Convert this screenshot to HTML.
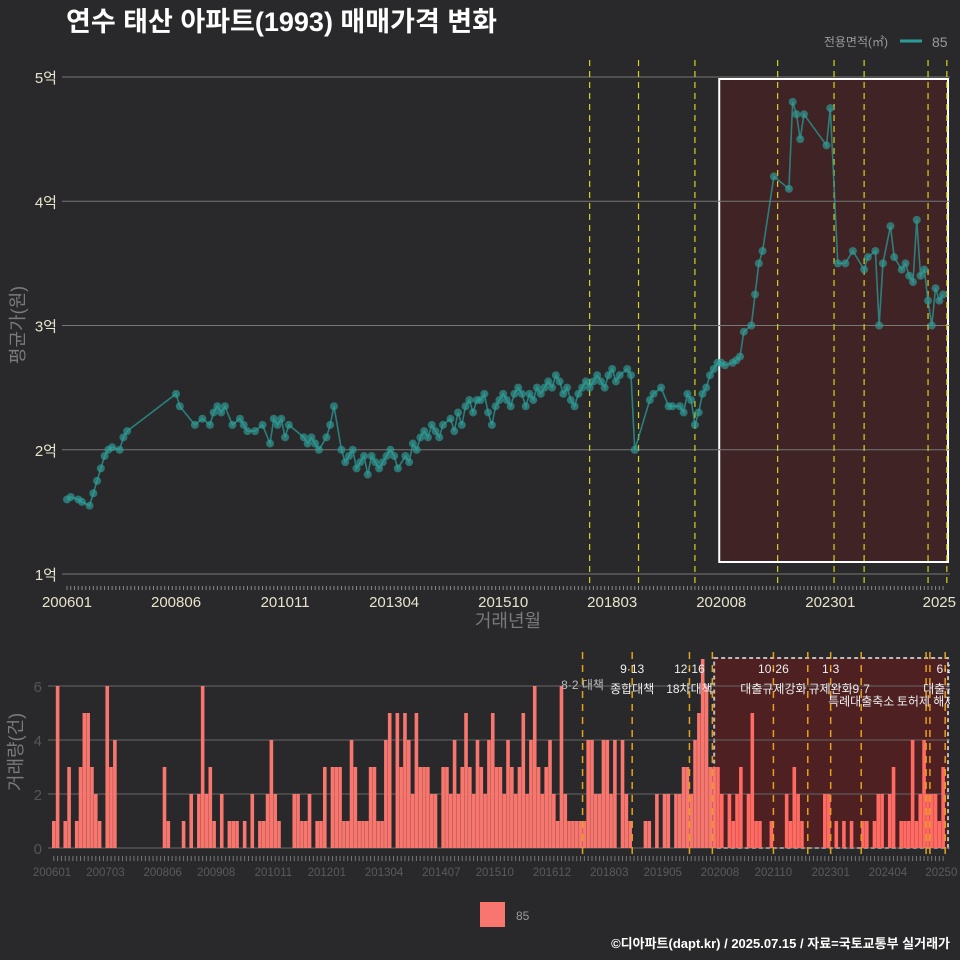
<!DOCTYPE html>
<html><head><meta charset="utf-8">
<style>
html,body{margin:0;padding:0;background:#29292b;}
svg{display:block;font-family:"Liberation Sans","Noto Sans CJK KR",sans-serif;}
</style></head>
<body>
<svg id="chart" width="960" height="960" viewBox="0 0 960 960">
<rect width="960" height="960" fill="#29292b"/>
<text x="66" y="31" font-size="27" font-weight="bold" fill="#ffffff">연수 태산 아파트(1993) 매매가격 변화</text>
<text x="888" y="46" font-size="12" fill="#9a9a9a" text-anchor="end">전용면적(㎡)</text>
<line x1="900" y1="41" x2="922" y2="41" stroke="#2a9d98" stroke-width="3"/>
<text x="932" y="47" font-size="14" fill="#9a9a9a">85</text>
<g id="topPanel"></g>
<g id="botPanel"></g>
<rect x="480" y="902" width="25" height="25" fill="#f8766d"/>
<text x="516" y="920" font-size="12" fill="#9a9a9a">85</text>
<text x="950" y="948" font-size="13" font-weight="bold" fill="#ffffff" text-anchor="end">©디아파트(dapt.kr) / 2025.07.15 / 자료=국토교통부 실거래가</text>
</svg>
<script>
const months = 234; // 2006-01 .. 2025-06
const priceAvg = [
1.60,1.62,1.60,1.60,1.58,1.62,1.55,1.65,1.75,1.85,1.95,2.00,
2.02,2.05,2.00,2.10,2.15,2.20,2.20,2.20,2.20,2.20,2.20,2.20,
2.30,2.30,2.30,2.30,2.30,2.45,2.35,2.30,2.30,2.25,2.20,2.20,
2.25,2.25,2.20,2.30,2.35,2.30,2.35,2.25,2.20,2.20,2.25,2.20,
2.15,2.10,2.15,2.10,2.20,2.10,2.05,2.25,2.20,2.25,2.10,2.20,
2.20,2.15,2.15,2.10,2.05,2.10,2.05,2.00,2.10,2.10,2.20,2.35,
2.10,2.00,1.90,1.95,2.00,1.85,1.90,1.95,1.80,1.95,1.90,1.85,
1.90,1.95,2.00,1.95,1.85,1.90,1.95,1.90,2.05,2.00,2.10,2.15,
2.10,2.20,2.15,2.10,2.20,2.10,2.25,2.15,2.30,2.20,2.35,2.40,
2.30,2.40,2.40,2.45,2.30,2.20,2.35,2.40,2.45,2.40,2.35,2.45,
2.50,2.45,2.35,2.45,2.40,2.50,2.45,2.50,2.55,2.50,2.60,2.55,
2.45,2.50,2.40,2.35,2.45,2.50,2.55,2.50,2.55,2.60,2.55,2.50,
2.60,2.65,2.55,2.60,2.60,2.65,2.60,2.00,2.60,2.60,2.60,2.40,
2.45,2.40,2.50,2.40,2.35,2.35,2.30,2.35,2.30,2.45,2.40,2.20,
2.30,2.45,2.50,2.60,2.65,2.70,2.70,2.68,2.70,2.70,2.72,2.75,
2.95,2.90,3.00,3.25,3.50,3.60,3.30,3.60,4.20,4.80,4.70,4.80,
4.10,4.80,4.70,4.50,4.70,4.70,4.70,4.70,4.70,4.70,4.45,4.75,
3.50,3.50,3.45,3.50,3.60,3.60,3.10,3.50,3.45,3.55,3.45,3.60,
3.00,3.50,3.50,3.80,3.55,3.50,3.45,3.50,3.40,3.35,3.85,3.40,
3.45,3.20,3.00,3.30,3.20,3.25];
const volume = [
1,6,0,1,3,0,1,3,5,5,3,2,
1,0,6,3,4,0,0,0,0,0,0,0,
0,0,0,0,0,3,1,0,0,0,1,0,
2,0,2,6,2,3,1,0,2,0,1,1,
1,0,1,0,2,0,1,1,2,4,2,1,
0,0,0,2,2,1,1,2,0,1,1,3,
0,3,3,3,1,1,4,3,1,1,1,3,
3,1,1,4,5,0,5,3,5,4,2,5,
3,3,3,2,2,0,3,3,2,4,2,3,
5,3,2,4,3,2,4,5,3,3,2,4,
3,2,3,5,2,4,6,3,2,3,4,2,
1,6,2,1,1,1,1,1,4,4,2,2,
4,4,2,4,0,4,2,1,0,0,0,1,
1,0,2,0,2,2,0,2,2,3,3,2,
4,5,7,6,3,3,3,2,0,2,1,2,
3,0,2,5,1,1,0,0,1,0,0,0,
2,1,3,2,1,0,0,0,0,0,2,2,
0,1,0,1,0,1,0,0,1,1,0,1,
2,2,0,2,3,0,1,1,1,4,1,2,
4,2,2,2,1,3];
const priceTicks = [1,2,3,4,5];
const priceTickLabels = ["1억","2억","3억","4억","5억"];
const volTicks = [0,2,4,6];
const topXTicks = [0,29,58,87,116,145,174,203,232];
const topXLabels = ["200601","200806","201011","201304","201510","201803","202008","202301","2025"];
const botXTicks = [0,14,29,43,58,72,87,102,116,131,146,160,175,189,204,219,233];
const botXLabels = ["200601","200703","200806","200908","201011","201201","201304","201407","201510","201612","201803","201905","202008","202110","202301","202404","20250"];
const topEvents = [139,152,167,189,204,212,229,234];
const botEvents = [139,152,167,173,189,198,204,212,229,230,234];
const highlightStart = 174;
const annText = ["8·2 대책","9·13","종합대책","12·16","18차대책","10·26","대출규제강화","1·3","규제완화","9·7","특례대출축소","토허제 해제","6·2","대출규제"];
const annMonth = [139,152,152,167,167,189,189,204,204,212,212,229,234,234];
const annRow = [1.5,0,1.9,0,1.9,0,1.9,0,1.9,1.9,3.1,3.1,0,1.9];

const NS = "http://www.w3.org/2000/svg";
function mk(tag, attrs, parent){const e=document.createElementNS(NS,tag);for(const k in attrs)e.setAttribute(k,attrs[k]);parent.appendChild(e);return e;}
const topG = document.getElementById('topPanel');
const botG = document.getElementById('botPanel');

const tx = m => 67 + m*3.76;
const ty = v => 574 - (v-1)*124.25;
const bx = m => 52 + m*3.817;
const by = v => 848 - v*27;

let hr = mk('rect',{x:tx(highlightStart)-2,y:79,width:948-tx(highlightStart)+2,height:483,fill:'rgba(100,25,30,0.38)',stroke:'#ffffff','stroke-width':2},topG);



priceTicks.forEach((v,i)=>{
  let g = mk('line',{x1:62,x2:950,y1:ty(v),y2:ty(v),stroke:'#777','stroke-width':1},topG);
  
  
  let t = mk('text',{x:57,y:ty(v)+6,'font-size':15,fill:'#e8e4cc','text-anchor':'end'},topG);
  t.textContent = priceTickLabels[i];
  
  
});
for(let m=0;m<months;m++){
  let l = mk('line',{x1:tx(m),x2:tx(m),y1:586,y2:590,stroke:'#888','stroke-width':1},topG);
  
  
}
topXTicks.forEach((m,i)=>{
  let t = mk('text',{x:tx(m),y:607,'font-size':15,fill:'#e8e4cc','text-anchor':'middle'},topG);
  t.textContent = topXLabels[i];
  
  
});
let xt = mk('text',{x:508,y:627,'font-size':18,fill:'#7a7a7a','text-anchor':'middle'},topG);
xt.textContent='거래년월';


let yt = mk('text',{x:0,y:0,'font-size':18,fill:'#7a7a7a','text-anchor':'middle',transform:'translate(24,325) rotate(-90)'},topG);
yt.textContent='평균가(원)';



topEvents.forEach(m=>{
  let l = mk('line',{x1:tx(m),x2:tx(m),y1:60,y2:585,stroke:'#d4d41a','stroke-width':1.2,'stroke-dasharray':'6,5'},topG);
  
  
});

let pts=[];
for(let m=0;m<months;m++){ if(volume[m]>0) pts.push([tx(m),ty(priceAvg[m])]); }
let pl = mk('polyline',{points:pts.map(p=>p.join(',')).join(' '),fill:'none',stroke:'#2a9d98','stroke-width':1.6,'stroke-opacity':0.75},topG);


for(let m=0;m<months;m++){
  if(volume[m]>0){
    let c = mk('circle',{cx:tx(m),cy:ty(priceAvg[m]),r:4,fill:'#2f9f99','fill-opacity':0.65},topG);
    
    
  }
}

let br = mk('rect',{x:bx(highlightStart)-2,y:658,width:948-bx(highlightStart)+2,height:190,fill:'rgba(110,25,28,0.55)',stroke:'#bbb','stroke-width':2,'stroke-dasharray':'4,3'},botG);


volTicks.forEach(v=>{
  let g = mk('line',{x1:48,x2:950,y1:by(v),y2:by(v),stroke:'#666','stroke-width':1},botG);
  
  
  let t = mk('text',{x:42,y:by(v)+6,'font-size':15,fill:'#555','text-anchor':'end'},botG);
  t.textContent = v;
  
  
});
for(let m=0;m<months;m++){
  if(volume[m]>0){
    let b = mk('rect',{x:bx(m),y:by(volume[m]),width:3.6,height:by(0)-by(volume[m]),fill:m>=highlightStart?'#ff6b63':'#f8766d'},botG);
    
    
  }
  let l = mk('line',{x1:bx(m)+1.8,x2:bx(m)+1.8,y1:856,y2:861,stroke:'#777','stroke-width':1},botG);
  
  
}
botXTicks.forEach((m,i)=>{
  let t = mk('text',{x:bx(m),y:876,'font-size':11.5,fill:'#5a5a5a','text-anchor':'middle'},botG);
  t.textContent = botXLabels[i];
  
  
});
botEvents.forEach(m=>{
  let l = mk('line',{x1:bx(m),x2:bx(m),y1:652,y2:858,stroke:'#e6a11a','stroke-width':1.5,'stroke-dasharray':'7,6'},botG);
  
  
});
let vt = mk('text',{x:0,y:0,'font-size':18,fill:'#7a7a7a','text-anchor':'middle',transform:'translate(22,752) rotate(-90)'},botG);
vt.textContent='거래량(건)';



const cp = mk('clipPath',{id:'clipb'},botG);
mk('rect',{x:0,y:640,width:950,height:100},cp);
const clipG = mk('g',{'clip-path':'url(#clipb)'},botG);
annText.forEach((s,i)=>{
  let t = mk('text',{x:bx(annMonth[i]),y:673+annRow[i]*10.5,'font-size':12,fill:i===0?'#bbbbbb':'#eeeeee','text-anchor':'middle'},clipG);
  t.textContent = s;
  
  
});
</script>
</body></html>
